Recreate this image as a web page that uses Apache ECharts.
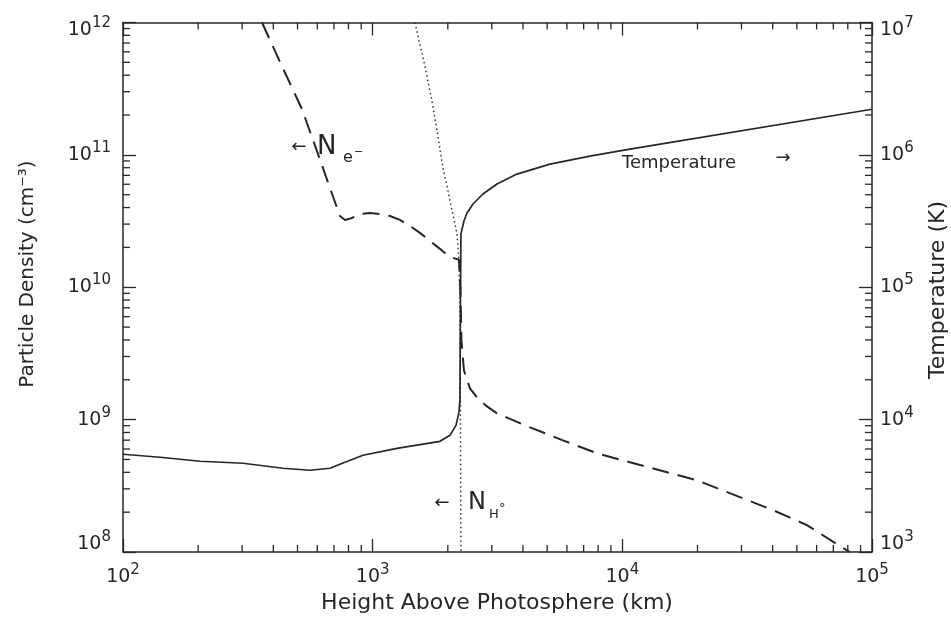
<!DOCTYPE html>
<html><head><meta charset="utf-8">
<script src="https://cdn.jsdelivr.net/npm/echarts@6/dist/echarts.min.js"></script>
<style>html,body{margin:0;padding:0;background:#fff}#c{width:951px;height:624px}</style>
</head><body><div id="c"></div>
<script>
// Temperature (right axis, K) vs height (km)
const heightT = [100, 140.7, 203.4, 302.4, 437.2, 561, 674.5, 774.6, 914.6, 1251, 1860, 2040, 2156, 2216, 2237, 2247, 2257, 2321, 2387, 2522, 2765, 3147, 3784, 5129, 7418, 10725, 100000];
const temperature = [5473, 5195, 4848, 4682, 4293, 4147, 4293, 4764, 5379, 6073, 6858, 7608, 9050, 11340, 13960, 79140, 252900, 316900, 364000, 425600, 506200, 602300, 716100, 851700, 978700, 1105000, 2212000];
// Electron density (left axis, cm^-3)
const heightNe = [360.3, 433.4, 521.2, 598.4, 674.5, 739.6, 774.6, 826.4, 889.5, 975.4, 1069.5, 1173, 1286, 1410, 1547, 1696, 1860, 1985, 2097, 2216, 2247, 2268, 2321, 2453, 2617, 2870, 3147, 4265, 5782, 7913, 10725, 19895, 29570, 40100, 54870, 76450, 81540];
const electronDensity = [1e12, 4.663e11, 2.212e11, 1.067e11, 5.617e10, 3.456e10, 3.225e10, 3.339e10, 3.579e10, 3.641e10, 3.579e10, 3.456e10, 3.225e10, 2.906e10, 2.575e10, 2.240e10, 1.950e10, 1.757e10, 1.668e10, 1.612e10, 9.41e9, 3.954e9, 2.350e9, 1.720e9, 1.471e9, 1.259e9, 1.115e9, 8.745e8, 6.978e8, 5.570e8, 4.764e8, 3.486e8, 2.596e8, 2.072e8, 1.597e8, 1.072e8, 1e8];
// Neutral hydrogen density (left axis, cm^-3)
const heightNH = [1477, 1620, 1728, 1826, 1912, 1985, 2040, 2116, 2176, 2216, 2237, 2257];
const hydrogenDensity = [1e12, 4.663e11, 2.54e11, 1.384e11, 7.94e10, 5.816e10, 4.49e10, 3.281e10, 2.53e10, 1.583e10, 7.91e9, 1e8];
// Tick labels (powers of ten)
const xTickExponents = [2, 3, 4, 5];
const leftTickExponents = [8, 9, 10, 11, 12];
const rightTickExponents = [3, 4, 5, 6, 7];

const FONT = 'DejaVu Sans';
const INK = '#262626';
function minorValues(exps) {
  const out = [];
  for (let i = 0; i < exps.length - 1; i++) {
    const base = Math.pow(10, exps[i]);
    for (let m = 2; m <= 9; m++) out.push(m * base);
  }
  return out;
}
const rich = {
  b: {fontSize: 19, lineHeight: 28, fontFamily: FONT, color: INK},
  s: {fontSize: 15, lineHeight: 14, padding: [0, 0, 14, 0], fontFamily: FONT, color: INK},
  bt: {fontSize: 19, lineHeight: 28, padding: [16, 0, 0, 0], fontFamily: FONT, color: INK},
  st: {fontSize: 15, lineHeight: 14, padding: [16, 0, 14, 0], fontFamily: FONT, color: INK},
  bb: {fontSize: 19, lineHeight: 28, padding: [0, 0, 16, 0], fontFamily: FONT, color: INK},
  sb: {fontSize: 15, lineHeight: 14, padding: [0, 0, 30, 0], fontFamily: FONT, color: INK}
};
function powLabel(exps, shiftEnds) {
  return function (v) {
    const e = Math.round(v);
    if (exps.indexOf(e) < 0) return '';
    let k = '';
    if (shiftEnds && e === exps[exps.length - 1]) k = 't';
    if (shiftEnds && e === exps[0]) k = 'b';
    return '{b' + k + '|10}{s' + k + '|' + e + '}';
  };
}
const axisLine = {show: true, onZero: false, lineStyle: {color: INK, width: 1.5}};
function deco(pos, exps, labelCfg) {
  return {
    type: 'value', position: pos, min: exps[0], max: exps[exps.length - 1], interval: 1,
    splitLine: {show: false},
    axisLine: axisLine,
    axisTick: {show: true, inside: true, length: 13, lineStyle: {color: INK, width: 1.3}},
    axisLabel: labelCfg ? labelCfg : {show: false}
  };
}
const MINOR = 7, TW = 1.3;
function tickRect(x, y, w, h) {
  return {type: 'rect', shape: {x: x, y: y, width: w, height: h}, style: {fill: INK}, z: 20};
}

const texts = [
  {type: 'text', x: 28, y: 274, rotation: Math.PI / 2, style: {text: 'Particle Density (cm\u207B\u00B3)', font: '20px "DejaVu Sans"', fill: INK, textAlign: 'center', textVerticalAlign: 'middle'}},
  {type: 'text', x: 938, y: 290, rotation: Math.PI / 2, style: {text: 'Temperature (K)', font: '22px "DejaVu Sans"', fill: INK, textAlign: 'center', textVerticalAlign: 'middle'}},
  {type: 'text', x: 497, y: 603, style: {text: 'Height Above Photosphere (km)', font: '22px "DejaVu Sans"', fill: INK, textAlign: 'center', textVerticalAlign: 'middle'}},
  {type: 'text', x: 299, y: 147, style: {text: '\u2190', font: '18px "DejaVu Sans"', fill: INK, textAlign: 'center', textVerticalAlign: 'middle'}},
  {type: 'text', x: 317, y: 147, style: {text: 'N', font: '26px "DejaVu Sans"', fill: INK, textAlign: 'left', textVerticalAlign: 'middle'}},
  {type: 'text', x: 343, y: 158, style: {text: 'e', font: '16px "DejaVu Sans"', fill: INK, textAlign: 'left', textVerticalAlign: 'middle'}},
  {type: 'text', x: 354, y: 152, style: {text: '\u2212', font: '11px "DejaVu Sans"', fill: INK, textAlign: 'left', textVerticalAlign: 'middle'}},
  {type: 'text', x: 442, y: 503, style: {text: '\u2190', font: '18px "DejaVu Sans"', fill: INK, textAlign: 'center', textVerticalAlign: 'middle'}},
  {type: 'text', x: 468, y: 503, style: {text: 'N', font: '24px "DejaVu Sans"', fill: INK, textAlign: 'left', textVerticalAlign: 'middle'}},
  {type: 'text', x: 489, y: 515, style: {text: 'H', font: '13px "DejaVu Sans"', fill: INK, textAlign: 'left', textVerticalAlign: 'middle'}},
  {type: 'text', x: 499, y: 509, style: {text: '\u00B0', font: '13px "DejaVu Sans"', fill: INK, textAlign: 'left', textVerticalAlign: 'middle'}},
  {type: 'text', x: 622, y: 163, style: {text: 'Temperature', font: '18px "DejaVu Sans"', fill: INK, textAlign: 'left', textVerticalAlign: 'middle'}},
  {type: 'text', x: 783, y: 158, style: {text: '\u2192', font: '18px "DejaVu Sans"', fill: INK, textAlign: 'center', textVerticalAlign: 'middle'}}
];

const chart = echarts.init(document.getElementById('c'));
chart.setOption({
  animation: false,
  backgroundColor: '#fff',
  grid: {left: 123, right: 79, top: 21, bottom: 72},
  xAxis: [
    {type: 'log', min: 100, max: 100000, show: false},
    deco('bottom', xTickExponents, {show: true, margin: 11, formatter: powLabel(xTickExponents, false), rich: rich, showMinLabel: true, showMaxLabel: true}),
    deco('top', xTickExponents)
  ],
  yAxis: [
    {type: 'log', min: 1e8, max: 1e12, show: false},
    {type: 'log', min: 1e3, max: 1e7, show: false},
    deco('left', leftTickExponents, {show: true, margin: 12, formatter: powLabel(leftTickExponents, true), rich: rich, showMinLabel: true, showMaxLabel: true}),
    deco('right', rightTickExponents, {show: true, margin: 8, formatter: powLabel(rightTickExponents, true), rich: rich, showMinLabel: true, showMaxLabel: true})
  ],
  series: [
    {name: 'Temperature', type: 'line', xAxisIndex: 0, yAxisIndex: 1, symbol: 'none', smooth: false,
     data: heightT.map((h, i) => [h, temperature[i]]), lineStyle: {color: INK, width: 1.7}, z: 5},
    {name: 'Ne', type: 'line', xAxisIndex: 0, yAxisIndex: 0, symbol: 'none', smooth: false,
     data: heightNe.map((h, i) => [h, electronDensity[i]]), lineStyle: {color: INK, width: 2, type: [17, 9]}, z: 4},
    {name: 'NH', type: 'line', xAxisIndex: 0, yAxisIndex: 0, symbol: 'none', smooth: false,
     data: heightNH.map((h, i) => [h, hydrogenDensity[i]]), lineStyle: {color: '#333', width: 1.5, type: [1.5, 3]}, z: 3}
  ],
  graphic: texts
});

// Minor (2..9) log ticks placed through the series' own log scales
const ticks = [];
const dens = {seriesIndex: 1};
const temp = {seriesIndex: 0};
const bl = chart.convertToPixel(dens, [100, 1e8]);
const tr = chart.convertToPixel(dens, [100000, 1e12]);
if (bl && tr) {
  minorValues(xTickExponents).forEach(v => {
    const p = chart.convertToPixel(dens, [v, 1e10]);
    ticks.push(tickRect(p[0] - TW / 2, bl[1] - MINOR, TW, MINOR));
    ticks.push(tickRect(p[0] - TW / 2, tr[1], TW, MINOR));
  });
  minorValues(leftTickExponents).forEach(v => {
    const p = chart.convertToPixel(dens, [1000, v]);
    ticks.push(tickRect(bl[0], p[1] - TW / 2, MINOR, TW));
  });
  minorValues(rightTickExponents).forEach(v => {
    const p = chart.convertToPixel(temp, [1000, v]);
    ticks.push(tickRect(tr[0] - MINOR, p[1] - TW / 2, MINOR, TW));
  });
  chart.setOption({graphic: texts.concat(ticks)});
}
</script></body></html>
